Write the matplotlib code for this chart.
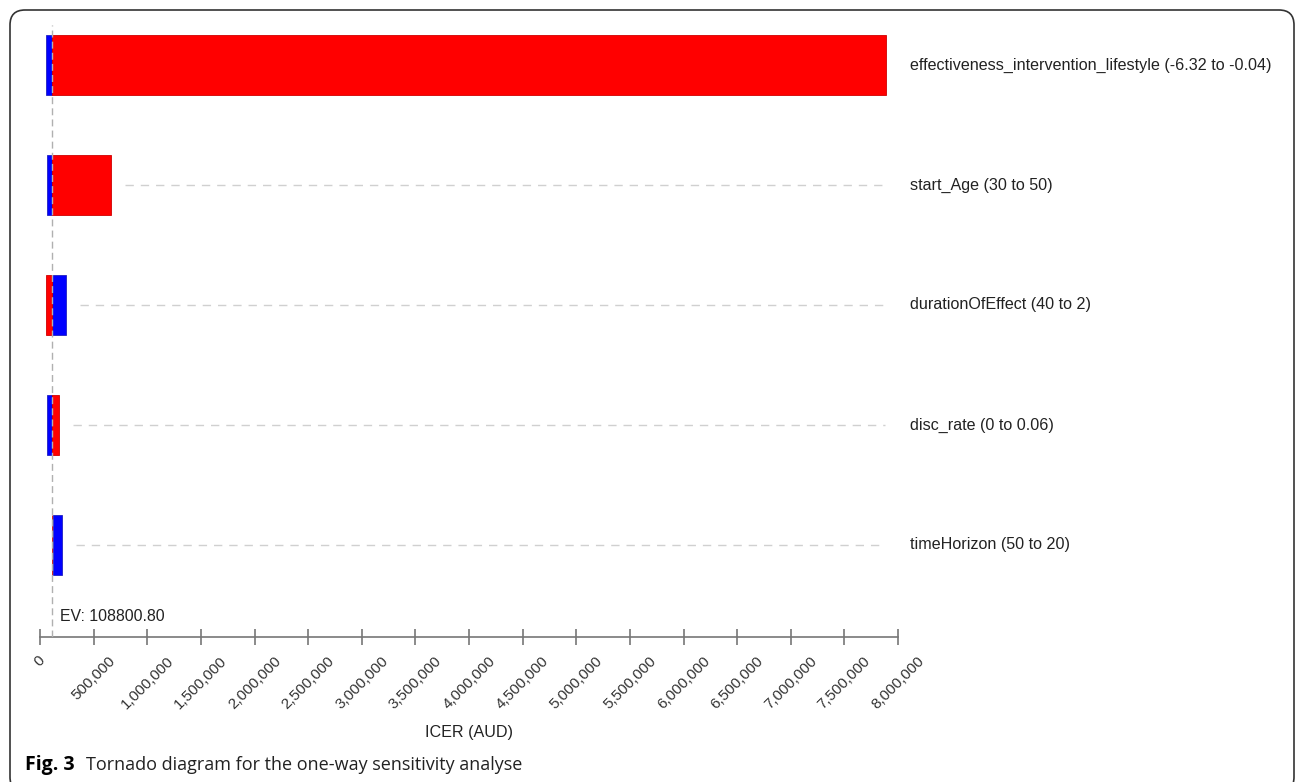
import matplotlib
matplotlib.use("Agg")
import matplotlib.pyplot as plt
from matplotlib.patches import FancyBboxPatch

# tornado data (ICER, AUD)
params = [
    "effectiveness_intervention_lifestyle (-6.32 to -0.04)",
    "start_Age (30 to 50)",
    "durationOfEffect (40 to 2)",
    "disc_rate (0 to 0.06)",
    "timeHorizon (50 to 20)",
]
ev = 108800.80
blue_lo = [53000, 65000, 108800.80, 65000, 121000]
blue_hi = [108800.80, 108800.80, 242000, 108800.80, 205000]
red_lo = [108800.80, 108800.80, 53000, 108800.80, 108800.80]
red_hi = [7890000, 665000, 108800.80, 177000, 108800.80]
xticks = list(range(0, 8000001, 500000))

W, H = 1296, 782
fig = plt.figure(figsize=(W / 100, H / 100), dpi=100)
plt.rcParams["font.family"] = ["Liberation Sans", "DejaVu Sans"]

# axes in pixel placement
x0, x1 = 40, 898
y_top, y_bot = 25, 637
ax = fig.add_axes([x0 / W, 1 - y_bot / H, (x1 - x0) / W, (y_bot - y_top) / H])
ax.set_xlim(0, 8000000)
ax.set_ylim(4.767, -0.333)

ys = list(range(len(params)))
for i, y in enumerate(ys):
    ax.barh(y, blue_hi[i] - blue_lo[i], left=blue_lo[i], height=0.5,
            color="#0000ff", edgecolor="#2020c0", linewidth=0.6, zorder=3)
    ax.barh(y, red_hi[i] - red_lo[i], left=red_lo[i], height=0.5,
            color="#ff0000", edgecolor="#d00000", linewidth=0.6, zorder=3)
    end = max(blue_hi[i], red_hi[i])
    if end < 7000000:
        ax.plot([end + 130000, 7880000], [y, y], color="#d0d0d0", lw=1,
                ls=(0, (6, 5)), zorder=1)
    ax.text(8110000, y, params[i], va="center", ha="left", fontsize=11.6,
            color="#222222", clip_on=False)

ax.axvline(ev, color="#b0b0b0", lw=1, ls=(0, (5, 3)), zorder=4)
ax.text(190000, 4.6, "EV: %.2f" % ev, fontsize=11.4, color="#222222",
        va="center", ha="left")

for s in ["top", "right", "left"]:
    ax.spines[s].set_visible(False)
ax.spines["bottom"].set_color("#777777")
ax.spines["bottom"].set_linewidth(1.2)
ax.set_yticks([])
ax.set_xticks(xticks)
ax.set_xticklabels([f"{v:,}" for v in xticks], rotation=45, ha="center",
                   va="top", fontsize=11, color="#333333")
ax.tick_params(axis="x", direction="inout", length=12, width=1.2,
               color="#777777", pad=6)
ax.set_xlabel("ICER (AUD)", fontsize=11.6, color="#222222", labelpad=10)

# frame and caption
frame = FancyBboxPatch((0.1, -0.1), 12.84, 7.82, boxstyle="round,pad=0,rounding_size=0.15",
                       transform=fig.dpi_scale_trans, fill=False, edgecolor="#333333",
                       linewidth=1.2)
fig.patches.append(frame)
fig.text(25 / W, 1 - 765 / H, "Fig. 3", fontsize=14, fontweight="bold",
         family=["Open Sans", "DejaVu Sans"], va="center", ha="left")
fig.text(86 / W, 1 - 765 / H, "Tornado diagram for the one-way sensitivity analyse",
         fontsize=13, family=["Open Sans", "DejaVu Sans"], va="center", ha="left",
         color="#222222")

fig.savefig("out.png", dpi=100)
